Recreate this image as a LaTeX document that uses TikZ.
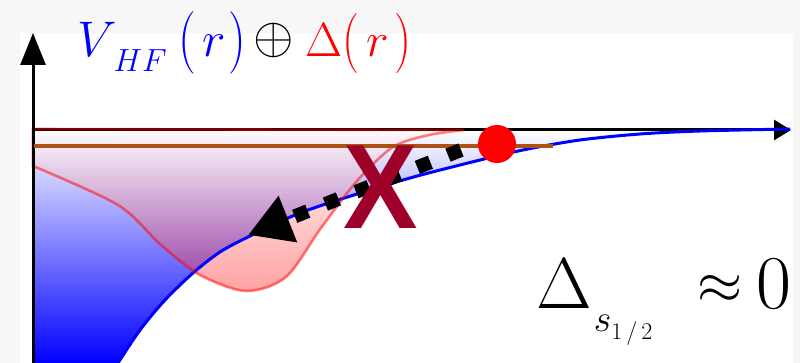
\RequirePackage{fix-cm}
\documentclass[tikz,border=0pt]{standalone}
\usepackage{fontspec}
\newfontfamily\crossfont{Liberation Sans}
\usepackage{tikz}
\usetikzlibrary{arrows.meta}
\definecolor{pagegray}{RGB}{247,247,247}
\definecolor{crossred}{RGB}{158,0,42}
\definecolor{levelbrown}{RGB}{172,82,22}
\newcommand{\tallparen}[1]{\raisebox{-2pt}{\scalebox{1}[1.25]{$#1$}}}

\begin{document}
\begin{tikzpicture}[x=1pt,y=-1pt,
      axisline/.style={line width=3pt},
      vcurve/.style={draw=blue, line width=3pt},
      dcurve/.style={draw=red, draw opacity=0.5, line width=2.6pt},
      level/.style={draw=levelbrown, line width=3.2pt},
      hop/.style={line width=14pt, dash pattern=on 14pt off 19pt, -{Triangle[length=43pt,width=47pt]}},
      txt/.style={inner sep=0pt, anchor=base west}
    ]
      \fill[pagegray] (0,0) rectangle (800,363);
      \fill[white] (20,33) rectangle (793,363);
      \useasboundingbox (0,0) rectangle (800,363);

      \coordinate (ybot) at (33,363);
      \coordinate (ytop) at (33,33);
      \coordinate (xleft) at (33,130);
      \coordinate (xright) at (791,130);
      \coordinate (hopstart) at (461,150);
      \coordinate (hopend) at (248,235);

      \shade[top color=white, middle color=blue!20, bottom color=blue] (33,130) -- (790,130)
        -- plot[smooth] coordinates {(790,130) (700,131) (640,134) (580,140) (523,150) (464,164) (410,178) (357,194) (300,213) (250,236) (220,252) (193,273) (165,300) (140,330) (118,363)}
        -- (33,363) -- cycle;
      \shade[top color=red!2, bottom color=red!90, fill opacity=0.4] (33,130)
        -- plot[smooth] coordinates {(33,166) (118,205) (161,245) (200,275) (246,291) (286,277) (321,228) (357,181) (393,147) (429,135) (464,131)}
        -- cycle;

      \draw[axisline, -{Triangle[length=17pt,width=20pt]}] (xleft) -- (xright);
      \draw[vcurve] plot[smooth] coordinates {(118,363) (140,330) (165,300) (193,273) (220,252) (250,236) (300,213) (357,194) (410,178) (464,164) (523,150) (580,140) (640,134) (700,131) (790,129)};
      \draw[dcurve] (33,129) -- plot[smooth] coordinates {(33,166) (118,205) (161,245) (200,275) (246,291) (286,277) (321,228) (357,181) (393,147) (429,135) (464,130)} -- cycle;
      \draw[axisline, -{Triangle[length=32pt,width=25pt]}] (ybot) -- (ytop);
      \draw[level] (34,146) -- (553,146);

      \draw[hop] (hopstart) -- (hopend);
      \node[font=\crossfont\bfseries\fontsize{120}{120}\selectfont, text=crossred, inner sep=0pt] (cross) at (381,187) {\scalebox{0.93}[1]{X}};
      \node[circle, fill=red, inner sep=0pt, minimum size=38pt] (dot) at (497,144) {};

      \node[txt, text=blue, font=\fontsize{50}{50}\selectfont] (vhf) at (77,57)
        {$V$\kern-3pt\raisebox{-15pt}{\fontsize{32}{32}\selectfont$HF$}\hspace{12pt}\tallparen{(}\hspace{6pt}$r$\hspace{3pt}\tallparen{)}};
      \node[font=\fontsize{52}{52}\selectfont, inner sep=0pt] (oplus) at (274,41) {$\oplus$};
      \node[txt, text=red, font=\fontsize{48}{48}\selectfont] (deltar) at (305,57)
        {$\Delta$\tallparen{(}\hspace{7pt}$r$\hspace{6pt}\tallparen{)}};
      \node[txt, font=\fontsize{72}{72}\selectfont] (gap) at (536,308)
        {$\Delta$\hspace{2pt}\raisebox{-23pt}{\fontsize{38}{38}\selectfont$s$\raisebox{-9pt}{\fontsize{24}{24}\selectfont$1\,/\,2$}}};
      \node[inner sep=0pt, anchor=base east] (zero) at (792,308)
        {\raisebox{5pt}{\fontsize{58}{58}\selectfont$\approx$}\hspace{14pt}{\fontsize{76}{76}\selectfont$0$}};
    \end{tikzpicture}
\end{document}
